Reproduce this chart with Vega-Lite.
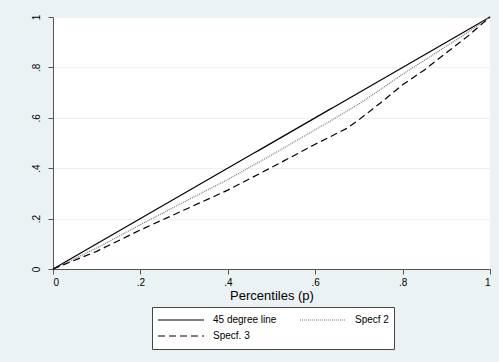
{
  "$schema": "https://vega.github.io/schema/vega-lite/v6.json",
  "autosize": "none",
  "width": 437,
  "height": 252,
  "padding": {"left": 53, "top": 17, "right": 9, "bottom": 93},
  "background": "#EAF2F3",
  "config": {
    "view": {"stroke": null, "fill": "white"},
    "font": "Liberation Sans",
    "axis": {
      "labelFont": "Liberation Sans",
      "titleFont": "Liberation Sans",
      "labelColor": "black",
      "titleColor": "black",
      "domainColor": "#555555",
      "tickColor": "#555555",
      "tickSize": 5,
      "labelFontSize": 10,
      "titleFontWeight": "normal"
    },
    "legend": {
      "labelFont": "Liberation Sans",
      "labelFontSize": 10,
      "labelColor": "black"
    }
  },
  "data": {
    "values": [
      {"p": 0, "v": 0, "s": "45 degree line"},
      {"p": 1, "v": 1, "s": "45 degree line"},
      {"p": 0, "v": 0, "s": "Specf 2"},
      {"p": 0.1, "v": 0.083, "s": "Specf 2"},
      {"p": 0.2, "v": 0.176, "s": "Specf 2"},
      {"p": 0.3, "v": 0.266, "s": "Specf 2"},
      {"p": 0.4, "v": 0.355, "s": "Specf 2"},
      {"p": 0.5, "v": 0.452, "s": "Specf 2"},
      {"p": 0.6, "v": 0.553, "s": "Specf 2"},
      {"p": 0.65, "v": 0.603, "s": "Specf 2"},
      {"p": 0.7, "v": 0.655, "s": "Specf 2"},
      {"p": 0.75, "v": 0.713, "s": "Specf 2"},
      {"p": 0.8, "v": 0.773, "s": "Specf 2"},
      {"p": 0.85, "v": 0.828, "s": "Specf 2"},
      {"p": 0.9, "v": 0.884, "s": "Specf 2"},
      {"p": 0.95, "v": 0.94, "s": "Specf 2"},
      {"p": 1, "v": 1, "s": "Specf 2"},
      {"p": 0, "v": 0, "s": "Specf. 3"},
      {"p": 0.1, "v": 0.07, "s": "Specf. 3"},
      {"p": 0.2, "v": 0.155, "s": "Specf. 3"},
      {"p": 0.3, "v": 0.234, "s": "Specf. 3"},
      {"p": 0.4, "v": 0.313, "s": "Specf. 3"},
      {"p": 0.5, "v": 0.403, "s": "Specf. 3"},
      {"p": 0.6, "v": 0.495, "s": "Specf. 3"},
      {"p": 0.67, "v": 0.556, "s": "Specf. 3"},
      {"p": 0.7, "v": 0.592, "s": "Specf. 3"},
      {"p": 0.75, "v": 0.66, "s": "Specf. 3"},
      {"p": 0.8, "v": 0.731, "s": "Specf. 3"},
      {"p": 0.85, "v": 0.79, "s": "Specf. 3"},
      {"p": 0.9, "v": 0.858, "s": "Specf. 3"},
      {"p": 0.95, "v": 0.925, "s": "Specf. 3"},
      {"p": 1, "v": 1, "s": "Specf. 3"}
    ]
  },
  "mark": {"type": "line", "strokeWidth": 1.2},
  "encoding": {
    "x": {
      "field": "p",
      "type": "quantitative",
      "scale": {"domain": [0, 1], "nice": false, "zero": false},
      "axis": {
        "title": "Percentiles (p)",
        "titleFontSize": 13,
        "titlePadding": 2,
        "values": [0, 0.2, 0.4, 0.6, 0.8, 1],
        "grid": false,
        "labelPadding": 3,
        "labelExpr": "datum.value == 0 ? '0' : datum.value == 1 ? '1' : replace(format(datum.value, '.1f'), '0.', '.')"
      }
    },
    "y": {
      "field": "v",
      "type": "quantitative",
      "scale": {"domain": [0, 1], "nice": false, "zero": false},
      "axis": {
        "title": null,
        "values": [0, 0.2, 0.4, 0.6, 0.8, 1],
        "grid": true,
        "gridColor": "#EAF2F3",
        "gridWidth": 1,
        "labelAngle": -90,
        "labelAlign": "center",
        "labelBaseline": "bottom",
        "labelPadding": 7,
        "labelExpr": "datum.value == 0 ? '0' : datum.value == 1 ? '1' : replace(format(datum.value, '.1f'), '0.', '.')"
      }
    },
    "color": {
      "field": "s",
      "type": "nominal",
      "scale": {"domain": ["45 degree line", "Specf 2", "Specf. 3"], "range": ["#000000", "#777777", "#000000"]},
      "legend": {
        "title": null,
        "orient": "none",
        "legendX": 99,
        "legendY": 290,
        "direction": "horizontal",
        "columns": 2,
        "symbolType": "stroke",
        "symbolSize": 2116,
        "symbolStrokeWidth": 1.2,
        "clipHeight": 16,
        "labelOffset": 8,
        "columnPadding": 22,
        "rowPadding": 0,
        "padding": 5,
        "fillColor": "white",
        "strokeColor": "#444444"
      }
    },
    "strokeDash": {
      "field": "s",
      "type": "nominal",
      "scale": {"domain": ["45 degree line", "Specf 2", "Specf. 3"], "range": [[1, 0], [1, 1], [7, 4]]},
      "legend": {
        "title": null,
        "orient": "none",
        "legendX": 99,
        "legendY": 290,
        "direction": "horizontal",
        "columns": 2,
        "symbolType": "stroke",
        "symbolSize": 2116,
        "symbolStrokeWidth": 1.2,
        "clipHeight": 16,
        "labelOffset": 8,
        "columnPadding": 22,
        "rowPadding": 0,
        "padding": 5,
        "fillColor": "white",
        "strokeColor": "#444444"
      }
    }
  }
}
